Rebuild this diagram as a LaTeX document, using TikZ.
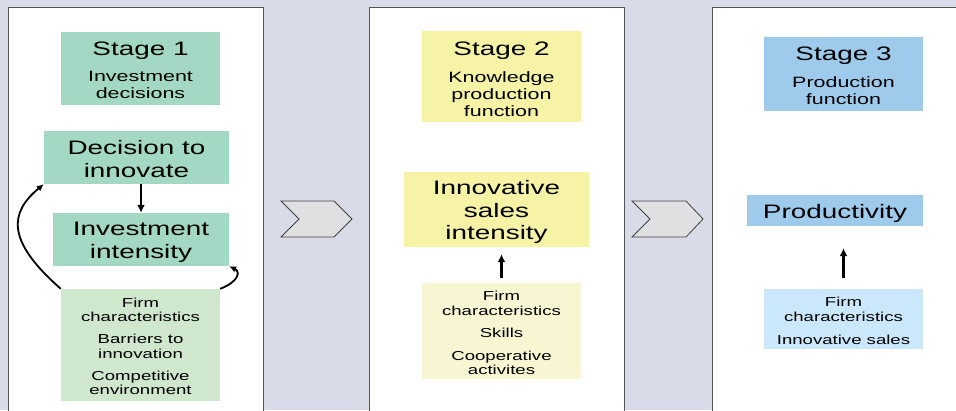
\documentclass[tikz,border=0pt]{standalone}
\usepackage{fontspec}
\setmainfont{Liberation Sans}
\newfontfamily\wfont[FakeStretch=1.43]{Liberation Sans}
\usetikzlibrary{arrows.meta,calc}
\definecolor{bgc}{HTML}{D9DCE8}
\definecolor{panelc}{HTML}{555555}
\definecolor{tealA}{HTML}{A3D8C5}
\definecolor{tealB}{HTML}{CEE7CD}
\definecolor{yelA}{HTML}{F6F2A6}
\definecolor{yelB}{HTML}{F8F6D2}
\definecolor{bluA}{HTML}{9ECAEC}
\definecolor{bluB}{HTML}{CAE8F9}
\definecolor{chevc}{HTML}{E0E0E3}
\newcommand\bigtxt{\wfont\fontsize{19.5}{22.5}\selectfont}
\newcommand\subtxt{\wfont\fontsize{15}{17}\selectfont}
\newcommand\smalltxt{\wfont\fontsize{13}{14.5}\selectfont}
\tikzset{
  panel/.style={fill=white,draw=panelc,line width=1pt},
  box/.style={draw=none,inner sep=0pt},
  txt/.style={inner sep=0pt,align=center,text=black},
  chev/.style={fill=chevc,draw=black!75,line width=0.8pt,line join=miter},
  arr/.style={-{Latex[length=8pt,width=8pt]},line width=2.5pt},
  carr/.style={-{Latex[length=7pt,width=6.5pt]},line width=1.8pt},
}
\begin{document}
\begin{tikzpicture}[x=1pt,y=-1pt]
\useasboundingbox (0,0) rectangle (956,410);
\fill[bgc] (0,0) rectangle (956,410);
\begin{scope}
\clip (0,0) rectangle (956,410);
\filldraw[panel] (8,7.5) rectangle (263,430);
\filldraw[panel] (369,7.5) rectangle (624,430);
\filldraw[panel] (712,7.5) rectangle (975,430);
\end{scope}
% chevrons
\draw[chev] (281,201) -- (334,201) -- (352,219) -- (334,237) -- (281,237) -- (299,219) -- cycle;
\draw[chev] (632,201) -- (686,201) -- (703,219) -- (686,237) -- (632,237) -- (650,219) -- cycle;
% stage 1
\node[box,fill=tealA,minimum width=159pt,minimum height=73pt] (s1) at (140.5,68.5) {};
\node[txt,font=\subtxt] (s1t) at ($(s1.center)+(0,2)$) {{\bigtxt Stage 1}\\[9pt]Investment\\decisions};
\node[box,fill=tealA,minimum width=185pt,minimum height=53pt] (d1) at (136.5,157.5) {};
\node[txt,font=\bigtxt] (d1t) at ($(d1.center)+(0,1.5)$) {Decision to\\innovate};
\node[box,fill=tealA,minimum width=176pt,minimum height=53pt] (i1) at (141,239.5) {};
\node[txt,font=\bigtxt] (i1t) at ($(i1.center)+(0,3)$) {Investment\\intensity};
\node[box,fill=tealB,minimum width=159pt,minimum height=112pt] (f1) at (140.5,345) {};
\node[txt,font=\smalltxt] (f1t) at ($(f1.center)+(0,1.5)$)
  {Firm\\characteristics\\[7.5pt]Barriers to\\innovation\\[7.5pt]Competitive\\environment};
\draw[arr] (i1.north |- d1.south) -- (i1.north);
\draw[carr] (f1.north west) .. controls (5,240) and (10,212) .. (d1.south west);
\draw[carr] (f1.north east) .. controls (238,282) and (241,272) .. (i1.south east);
% stage 2
\node[box,fill=yelA,minimum width=159pt,minimum height=91pt] (s2) at (501.5,76.5) {};
\node[txt,font=\subtxt] (s2t) at ($(s2.center)+(0,2.5)$) {{\bigtxt Stage 2}\\[10pt]Knowledge\\production\\function};
\node[box,fill=yelA,minimum width=185pt,minimum height=75pt] (n2) at (496.5,209.5) {};
\node[txt,font=\bigtxt] (n2t) at ($(n2.center)+(0,2.5)$) {Innovative\\sales\\intensity};
\node[box,fill=yelB,minimum width=159pt,minimum height=96pt] (f2) at (501.5,331) {};
\node[txt,font=\smalltxt] (f2t) at ($(f2.center)+(0,2)$)
  {Firm\\characteristics\\[8pt]Skills\\[8pt]Cooperative\\activites};
\draw[arr,shorten <=5pt,shorten >=7pt] (f2.north) -- (f2.north |- n2.south);
% stage 3
\node[box,fill=bluA,minimum width=159pt,minimum height=74pt] (s3) at (843.5,74) {};
\node[txt,font=\subtxt] (s3t) at ($(s3.center)+(0,2)$) {{\bigtxt Stage 3}\\[10pt]Production\\function};
\node[box,fill=bluA,minimum width=176pt,minimum height=31pt] (p3) at (835,210.5) {};
\node[txt,font=\bigtxt] (p3t) at ($(p3.center)+(0,3)$) {Productivity};
\node[box,fill=bluB,minimum width=159pt,minimum height=60pt] (f3) at (843.5,319) {};
\node[txt,font=\smalltxt] (f3t) at ($(f3.center)+(0,2)$)
  {Firm\\characteristics\\[8.5pt]Innovative sales};
\draw[arr,shorten <=11pt,shorten >=22pt] (f3.north) -- (f3.north |- p3.south);
\end{tikzpicture}
\end{document}
